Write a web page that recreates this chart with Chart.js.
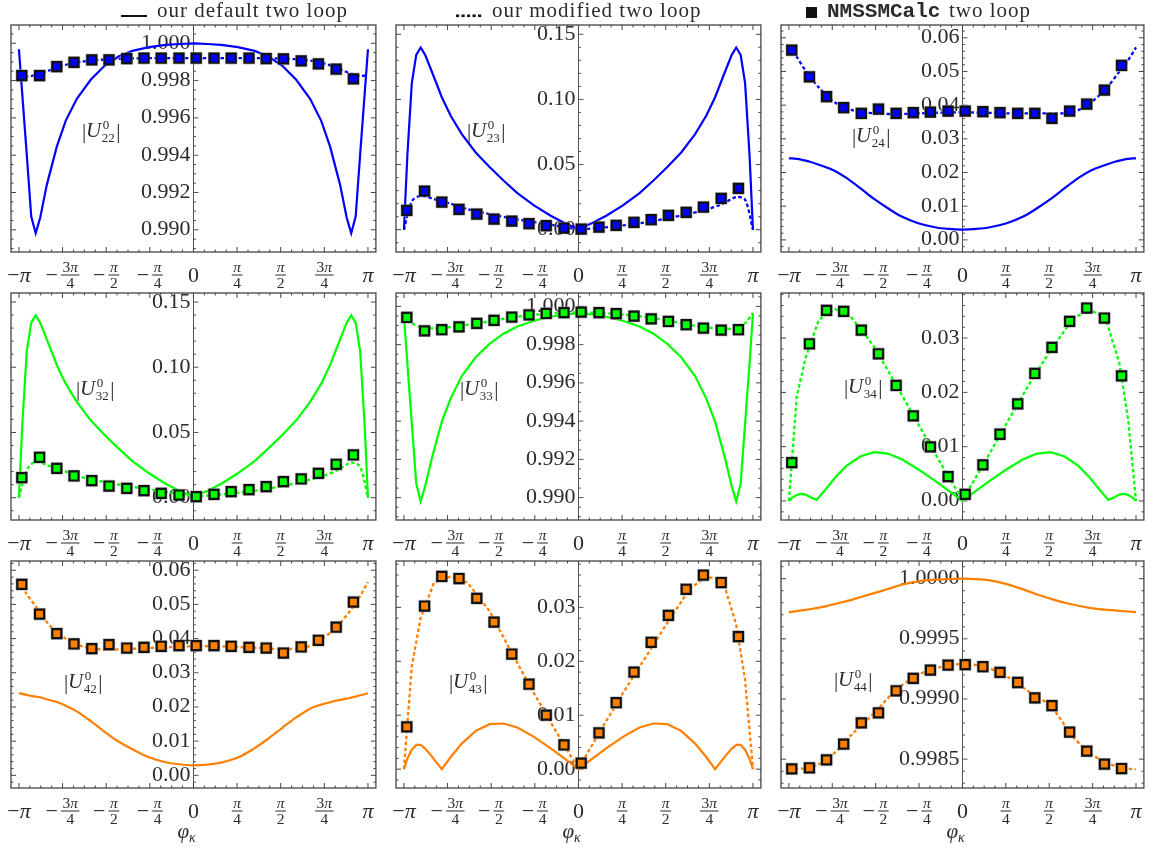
<!DOCTYPE html>
<html>
<head>
<meta charset="utf-8">
<script src="https://cdn.jsdelivr.net/npm/chart.js@4.4.1/dist/chart.umd.min.js"></script>
<style>
  body { margin: 0; background: #fff; width: 1153px; height: 850px; position: relative; overflow: hidden; }
  canvas { position: absolute; }
</style>
</head>
<body>
<canvas id="legend" width="1153" height="26" style="left:0;top:0"></canvas>
<script>
// x grids (phi_kappa in radians)
const LINE_PHI = [-3.1416, -3.08, -3.0, -2.92, -2.84, -2.76, -2.64, -2.46, -2.3, -2.1, -1.85, -1.6, -1.35, -1.1, -0.8, -0.5, -0.25, 0,
                  0.25, 0.5, 0.8, 1.1, 1.35, 1.6, 1.85, 2.1, 2.3, 2.46, 2.64, 2.76, 2.84, 2.92, 3.0, 3.08, 3.1416];
const DOT_PHI = [-3.1416, -3.0, -2.84, -2.6, -2.3, -2.0, -1.6, -1.2, -0.8, -0.4, 0, 0.4, 0.8, 1.2, 1.6, 2.0, 2.3, 2.6, 2.84, 3.0, 3.1416];
const PTS_PHI = [-3.09, -2.77, -2.46, -2.15, -1.83, -1.52, -1.20, -0.89, -0.58, -0.26, 0.05, 0.37, 0.68, 1.00, 1.31, 1.62, 1.94, 2.25, 2.57, 2.88];

// |U22|
const U22_DEFAULT = [0.99968, 0.99721, 0.99400, 0.99071, 0.98982, 0.99063, 0.99241, 0.99446, 0.99584, 0.99702, 0.99804, 0.99879, 0.99929, 0.99959, 0.99979, 0.99991, 0.99996, 1.00000,
                     0.99996, 0.99991, 0.99979, 0.99959, 0.99929, 0.99879, 0.99804, 0.99702, 0.99584, 0.99446, 0.99241, 0.99063, 0.98982, 0.99071, 0.99400, 0.99721, 0.99968];
const U22_MODIFIED = [0.99818, 0.99821, 0.99829, 0.99854, 0.99884, 0.99902, 0.99913, 0.99918, 0.99920, 0.99920, 0.99920, 0.99920, 0.99920, 0.99920, 0.99918, 0.99911, 0.99896, 0.99866, 0.99836, 0.99825, 0.99829];
const U22_CALC = [0.99827, 0.99827, 0.99875, 0.99898, 0.99911, 0.99911, 0.99918, 0.99920, 0.99920, 0.99920, 0.99920, 0.99920, 0.99920, 0.99920, 0.99918, 0.99916, 0.99905, 0.99889, 0.99861, 0.99809];

// |U23|
const U23_DEFAULT = [0, 0.0570, 0.1125, 0.1342, 0.1398, 0.1342, 0.1214, 0.1017, 0.0874, 0.0734, 0.0593, 0.0481, 0.0378, 0.0281, 0.0187, 0.0107, 0.0051, 0.0005,
                     0.0051, 0.0107, 0.0187, 0.0281, 0.0378, 0.0481, 0.0593, 0.0734, 0.0874, 0.1017, 0.1214, 0.1342, 0.1398, 0.1342, 0.1125, 0.0570, 0];
const U23_MODIFIED = [0, 0.02172, 0.02607, 0.02351, 0.01993, 0.01584, 0.01201, 0.00869, 0.00588, 0.00307, 0.00051, 0.00153, 0.00332, 0.00562, 0.00869, 0.01227, 0.01533, 0.01993, 0.02504, 0.02300, 0];
const U23_CALC = [0.01482, 0.02964, 0.02121, 0.01559, 0.01201, 0.00818, 0.00664, 0.00460, 0.00307, 0.00128, 0.00051, 0.00204, 0.00332, 0.00562, 0.00767, 0.01099, 0.01329, 0.01738, 0.02402, 0.03169];

// |U24|
const U24_DEFAULT = [0.02422, 0.02418, 0.02405, 0.02385, 0.02355, 0.02318, 0.02255, 0.02150, 0.02040, 0.01840, 0.01535, 0.01215, 0.00939, 0.00692, 0.00494, 0.00376, 0.00326, 0.00306,
                     0.00326, 0.00376, 0.00494, 0.00692, 0.00939, 0.01215, 0.01535, 0.01840, 0.02040, 0.02150, 0.02255, 0.02318, 0.02355, 0.02385, 0.02405, 0.02418, 0.02422];
const U24_MODIFIED = [0.05733, 0.05436, 0.05021, 0.04527, 0.04072, 0.03855, 0.03756, 0.03736, 0.03756, 0.03776, 0.03786, 0.03776, 0.03756, 0.03756, 0.03756, 0.03786, 0.04053, 0.04497, 0.04992, 0.05338, 0.05713];
const U24_CALC = [0.05634, 0.04843, 0.04250, 0.03924, 0.03756, 0.03885, 0.03756, 0.03776, 0.03796, 0.03825, 0.03825, 0.03805, 0.03776, 0.03756, 0.03756, 0.03608, 0.03825, 0.04033, 0.04448, 0.05179];

// |U32|
const U32_DEFAULT = [0, 0.0570, 0.1125, 0.1342, 0.1398, 0.1342, 0.1214, 0.1017, 0.0874, 0.0734, 0.0593, 0.0481, 0.0378, 0.0281, 0.0187, 0.0107, 0.0051, 0.0010,
                     0.0051, 0.0107, 0.0187, 0.0281, 0.0378, 0.0481, 0.0593, 0.0734, 0.0874, 0.1017, 0.1214, 0.1342, 0.1398, 0.1342, 0.1125, 0.0570, 0];
const U32_MODIFIED = [0, 0.02124, 0.02764, 0.02432, 0.01996, 0.01561, 0.01203, 0.00896, 0.00640, 0.00384, 0.00128, 0.00205, 0.00384, 0.00589, 0.00896, 0.01280, 0.01613, 0.02124, 0.02687, 0.02380, 0];
const U32_CALC = [0.01536, 0.03097, 0.02252, 0.01664, 0.01305, 0.00896, 0.00717, 0.00537, 0.00333, 0.00205, 0.00077, 0.00256, 0.00461, 0.00614, 0.00845, 0.01229, 0.01433, 0.01868, 0.02560, 0.03276];

// |U33|
const U33_DEFAULT = [0.99950, 0.99703, 0.99388, 0.99073, 0.98981, 0.99059, 0.99205, 0.99397, 0.99519, 0.99636, 0.99734, 0.99804, 0.99857, 0.99895, 0.99925, 0.99946, 0.99958, 0.99963,
                     0.99958, 0.99946, 0.99925, 0.99895, 0.99857, 0.99804, 0.99734, 0.99636, 0.99519, 0.99397, 0.99205, 0.99059, 0.98981, 0.99073, 0.99388, 0.99703, 0.99962];
const U33_MODIFIED = [0.99956, 0.99913, 0.99892, 0.99885, 0.99892, 0.99904, 0.99921, 0.99942, 0.99956, 0.99965, 0.99969, 0.99965, 0.99958, 0.99944, 0.99927, 0.99904, 0.99890, 0.99885, 0.99885, 0.99913, 0.99965];
const U33_CALC = [0.99942, 0.99872, 0.99878, 0.99893, 0.99911, 0.99927, 0.99944, 0.99956, 0.99963, 0.99967, 0.99970, 0.99967, 0.99962, 0.99949, 0.99935, 0.99921, 0.99904, 0.99886, 0.99876, 0.99878];

// |U34|
const U34_DEFAULT = [0, 0.00061, 0.00111, 0.00129, 0.00117, 0.00074, 0.00018, 0.00234, 0.00436, 0.00645, 0.00818, 0.00898, 0.00873, 0.00768, 0.00584, 0.00375, 0.00191, 0,
                     0.00191, 0.00375, 0.00584, 0.00768, 0.00873, 0.00898, 0.00818, 0.00645, 0.00436, 0.00234, 0.00018, 0.00074, 0.00117, 0.00129, 0.00111, 0.00061, 0];
const U34_MODIFIED = [0, 0.01924, 0.02631, 0.03338, 0.03535, 0.03369, 0.02846, 0.02139, 0.01414, 0.00707, 0.00018, 0.00707, 0.01432, 0.02139, 0.02785, 0.03350, 0.03535, 0.03338, 0.02539, 0.01494, 0];
const U34_CALC = [0.00707, 0.02895, 0.03510, 0.03492, 0.03147, 0.02711, 0.02127, 0.01568, 0.00996, 0.00449, 0.00123, 0.00664, 0.01229, 0.01789, 0.02348, 0.02828, 0.03307, 0.03553, 0.03369, 0.02305];

// |U42|
const U42_DEFAULT = [0.02402, 0.02382, 0.02353, 0.02324, 0.02304, 0.02284, 0.02225, 0.02147, 0.02039, 0.01873, 0.01588, 0.01275, 0.00990, 0.00765, 0.00529, 0.00382, 0.00324, 0.00294,
                     0.00314, 0.00373, 0.00520, 0.00794, 0.01078, 0.01392, 0.01696, 0.01951, 0.02069, 0.02137, 0.02206, 0.02245, 0.02275, 0.02304, 0.02343, 0.02373, 0.02402];
const U42_MODIFIED = [0.05686, 0.05294, 0.04951, 0.04412, 0.04000, 0.03775, 0.03676, 0.03696, 0.03725, 0.03755, 0.03775, 0.03775, 0.03755, 0.03725, 0.03696, 0.03735, 0.03971, 0.04382, 0.04853, 0.05245, 0.05657];
const U42_CALC = [0.05588, 0.04716, 0.04147, 0.03843, 0.03706, 0.03824, 0.03725, 0.03745, 0.03775, 0.03794, 0.03794, 0.03794, 0.03775, 0.03745, 0.03725, 0.03578, 0.03755, 0.03951, 0.04333, 0.05069];

// |U43|
const U43_DEFAULT = [0, 0.00193, 0.00361, 0.00448, 0.00448, 0.00380, 0.00237, 0, 0.00224, 0.00473, 0.00710, 0.00834, 0.00846, 0.00772, 0.00598, 0.00386, 0.00193, 0,
                     0.00193, 0.00386, 0.00598, 0.00772, 0.00846, 0.00834, 0.00710, 0.00473, 0.00224, 0, 0.00237, 0.00380, 0.00448, 0.00448, 0.00361, 0.00193, 0];
const U43_MODIFIED = [0, 0.01905, 0.02807, 0.03461, 0.03573, 0.03461, 0.02931, 0.02154, 0.01407, 0.00691, 0.00006, 0.00722, 0.01407, 0.02060, 0.02714, 0.03336, 0.03573, 0.03492, 0.02683, 0.01656, 0];
const U43_CALC = [0.00784, 0.03025, 0.03573, 0.03535, 0.03168, 0.02726, 0.02135, 0.01575, 0.01002, 0.00448, 0.00112, 0.00672, 0.01232, 0.01799, 0.02353, 0.02851, 0.03336, 0.03597, 0.03461, 0.02458];

// |U44|
const U44_DEFAULT = [0.999722, 0.999724, 0.999730, 0.999736, 0.999741, 0.999747, 0.999755, 0.999772, 0.999791, 0.999813, 0.999846, 0.999880, 0.999914, 0.999950, 0.999978, 0.999992, 0.999997, 1.000000,
                     0.999997, 0.999986, 0.999955, 0.999911, 0.999869, 0.999833, 0.999800, 0.999775, 0.999758, 0.999747, 0.999741, 0.999736, 0.999733, 0.999730, 0.999727, 0.999724, 0.999722];
const U44_MODIFIED = [0.998419, 0.998419, 0.998425, 0.998458, 0.998558, 0.998706, 0.998881, 0.999076, 0.999201, 0.999265, 0.999290, 0.999268, 0.999187, 0.999062, 0.998937, 0.998686, 0.998556, 0.998469, 0.998436, 0.998422, 0.998414];
const U44_CALC = [0.998419, 0.998428, 0.998494, 0.998625, 0.998801, 0.998884, 0.999068, 0.999171, 0.999240, 0.999282, 0.999285, 0.999268, 0.999221, 0.999137, 0.999009, 0.998945, 0.998725, 0.998567, 0.998458, 0.998422];

// tick labels
const TICKS_NEAR_ONE = ['0.990', '0.992', '0.994', '0.996', '0.998', '1.000'];
const TICKS_TENTH = ['0.00', '0.05', '0.10', '0.15'];
const TICKS_SIX = ['0.00', '0.01', '0.02', '0.03', '0.04', '0.05', '0.06'];
const TICKS_THREE = ['0.00', '0.01', '0.02', '0.03'];
const TICKS_U44 = ['0.9985', '0.9990', '0.9995', '1.0000'];
const X_TICK_VALUES = [-3.14159, -2.35619, -1.5708, -0.7854, 0, 0.7854, 1.5708, 2.35619, 3.14159];
const X_TICK_LABELS = ['−π', '−3π/4', '−π/2', '−π/4', '0', 'π/4', 'π/2', '3π/4', 'π'];
const LEGEND_TEXT = ['our default two loop', 'our modified two loop', 'NMSSMCalc', 'two loop'];

const BLUE = '#0000ff', GREEN = '#00ff00', ORANGE = '#ff8000';
const TEXT = '#2b2b2b', FRAME = '#444', AXIS = '#555';
const SERIF = '"Liberation Serif", "Times New Roman", serif';
const X_MIN = -3.2844, X_MAX = 3.2844;
const FRAME_TOP = [25, 293, 561], FRAME_LEFT = [11, 396, 781], FRAME_W = 368, FRAME_H = 227;

const PANELS = [
  { sub: '22', color: BLUE, def: U22_DEFAULT, mod: U22_MODIFIED, calc: U22_CALC, yMin: 0.98881, yMax: 1.00098, ticks: TICKS_NEAR_ONE, major: 0.002, sub4: 4, lab: [71, 112], tDef: 0, tMod: 0.3 },
  { sub: '23', color: BLUE, def: U23_DEFAULT, mod: U23_MODIFIED, calc: U23_CALC, yMin: -0.0171, yMax: 0.1571, ticks: TICKS_TENTH, major: 0.05, sub4: 5, lab: [71, 112], tDef: 0, tMod: 0.3 },
  { sub: '24', color: BLUE, def: U24_DEFAULT, mod: U24_MODIFIED, calc: U24_CALC, yMin: -0.0036, yMax: 0.0638, ticks: TICKS_SIX, major: 0.01, sub4: 5, lab: [71, 117], tDef: 0.3, tMod: 0.3 },
  { sub: '32', color: GREEN, def: U32_DEFAULT, mod: U32_MODIFIED, calc: U32_CALC, yMin: -0.0171, yMax: 0.1569, ticks: TICKS_TENTH, major: 0.05, sub4: 5, lab: [65, 102], tDef: 0, tMod: 0.3 },
  { sub: '33', color: GREEN, def: U33_DEFAULT, mod: U33_MODIFIED, calc: U33_CALC, yMin: 0.98883, yMax: 1.0007, ticks: TICKS_NEAR_ONE, major: 0.002, sub4: 4, lab: [64, 102], tDef: 0, tMod: 0.3 },
  { sub: '34', color: GREEN, def: U34_DEFAULT, mod: U34_MODIFIED, calc: U34_CALC, yMin: -0.0035, yMax: 0.0383, ticks: TICKS_THREE, major: 0.01, sub4: 5, lab: [63, 100], tDef: 0, tMod: 0 },
  { sub: '42', color: ORANGE, def: U42_DEFAULT, mod: U42_MODIFIED, calc: U42_CALC, yMin: -0.0037, yMax: 0.0627, ticks: TICKS_SIX, major: 0.01, sub4: 5, lab: [53, 127], tDef: 0.3, tMod: 0.3 },
  { sub: '43', color: ORANGE, def: U43_DEFAULT, mod: U43_MODIFIED, calc: U43_CALC, yMin: -0.0035, yMax: 0.0386, ticks: TICKS_THREE, major: 0.01, sub4: 5, lab: [53, 127], tDef: 0, tMod: 0 },
  { sub: '44', color: ORANGE, def: U44_DEFAULT, mod: U44_MODIFIED, calc: U44_CALC, yMin: 0.99826, yMax: 1.000147, ticks: TICKS_U44, major: 0.0005, sub4: 5, lab: [53, 125], tDef: 0.3, tMod: 0.3 }
];

function fnt(size, italic, family) {
  return (italic ? 'italic ' : '') + size + 'px ' + (family || SERIF);
}

// split a label into roman / italic runs (greek letters and U are italic)
function runsOf(str) {
  const runs = [];
  for (const ch of str) {
    const it = 'πUφκ'.includes(ch);
    if (runs.length && runs[runs.length - 1].it === it) runs[runs.length - 1].t += ch;
    else runs.push({ t: ch, it });
  }
  return runs;
}

function mathWidth(ctx, str, size) {
  let w = 0;
  runsOf(str).forEach(r => { ctx.font = fnt(size, r.it); w += ctx.measureText(r.t).width; });
  return w;
}

function drawMath(ctx, str, x, y, size, align) {
  const w = mathWidth(ctx, str, size);
  let cx = align === 'center' ? x - w / 2 : (align === 'right' ? x - w : x);
  ctx.textAlign = 'left';
  runsOf(str).forEach(r => {
    ctx.font = fnt(size, r.it);
    ctx.fillText(r.t, cx, y);
    cx += ctx.measureText(r.t).width;
  });
  return w;
}

function drawXLabel(ctx, lab, px, base) {
  const neg = lab.startsWith('−');
  const body = neg ? lab.slice(1) : lab;
  if (!body.includes('/')) {
    drawMath(ctx, lab, px, base + 30, 22, 'center');
    return;
  }
  const [num, den] = body.split('/');
  const fw = Math.max(mathWidth(ctx, num, 15.5), mathWidth(ctx, den, 15.5)) + 3;
  ctx.font = fnt(22);
  const mw = neg ? ctx.measureText('−').width + 3 : 0;
  const left = px - (mw + fw) / 2;
  if (neg) { ctx.textAlign = 'left'; ctx.fillText('−', left, base + 30); }
  const fc = left + mw + fw / 2;
  drawMath(ctx, num, fc, base + 20, 15.5, 'center');
  ctx.fillRect(fc - fw / 2, base + 22.5, fw, 1);
  drawMath(ctx, den, fc, base + 35.5, 15.5, 'center');
}

function drawPanelLabel(ctx, sub, x0, base) {
  ctx.textAlign = 'left';
  ctx.font = fnt(21);
  ctx.fillText('|', x0, base + 0.5);
  ctx.font = fnt(21, true);
  ctx.fillText('U', x0 + 4, base);
  const uw = ctx.measureText('U').width;
  const sx = x0 + 4 + uw + 0.5;
  ctx.font = fnt(13);
  ctx.fillText('0', sx + 1, base - 8);
  ctx.fillText(sub, sx, base + 4.5);
  const sw = ctx.measureText(sub).width;
  ctx.font = fnt(21);
  ctx.fillText('|', sx + sw + 1.5, base + 0.5);
}

function eachYTick(p, fn) {
  const minor = p.major / p.sub4;
  const n0 = Math.ceil(p.yMin / minor - 1e-9), n1 = Math.floor(p.yMax / minor + 1e-9);
  for (let n = n0; n <= n1; n++) fn(n * minor, n % p.sub4 === 0);
}

function decor(p, row) {
  return {
    id: 'decor',
    beforeDatasetsDraw(chart) {
      const { ctx, chartArea: a, scales: { x, y } } = chart;
      const ax = Math.round(x.getPixelForValue(0)) + 0.5;
      ctx.save();
      ctx.strokeStyle = AXIS;
      ctx.lineWidth = 1;
      ctx.beginPath();
      ctx.moveTo(ax, a.top); ctx.lineTo(ax, a.bottom);
      eachYTick(p, (v, major) => {
        const py = y.getPixelForValue(v);
        ctx.moveTo(ax, py); ctx.lineTo(ax + (major ? 5 : 2.5), py);
      });
      ctx.stroke();
      ctx.fillStyle = TEXT;
      ctx.textAlign = 'right';
      ctx.font = fnt(22);
      p.ticks.forEach(t => ctx.fillText(t, ax - 3, y.getPixelForValue(Number(t)) + 5.5));
      drawPanelLabel(ctx, p.sub, a.left + p.lab[0], a.top + p.lab[1]);
      ctx.restore();
    },
    afterDraw(chart) {
      const { ctx, chartArea: a, scales: { x, y } } = chart;
      ctx.save();
      ctx.strokeStyle = FRAME;
      ctx.lineWidth = 1.3;
      ctx.strokeRect(a.left, a.top, a.right - a.left, a.bottom - a.top);
      ctx.lineWidth = 1;
      ctx.beginPath();
      for (let k = -16; k <= 16; k++) {
        const px = x.getPixelForValue(k * Math.PI / 16);
        const len = k % 4 === 0 ? 5 : 2.5;
        ctx.moveTo(px, a.bottom); ctx.lineTo(px, a.bottom - len);
        ctx.moveTo(px, a.top); ctx.lineTo(px, a.top + len);
      }
      eachYTick(p, (v, major) => {
        const py = y.getPixelForValue(v);
        const len = major ? 5 : 2.5;
        ctx.moveTo(a.left, py); ctx.lineTo(a.left + len, py);
        ctx.moveTo(a.right, py); ctx.lineTo(a.right - len, py);
      });
      ctx.stroke();
      ctx.fillStyle = TEXT;
      X_TICK_LABELS.forEach((lab, i) => drawXLabel(ctx, lab, x.getPixelForValue(X_TICK_VALUES[i]), a.bottom));
      if (row === 2) {
        const cx = (a.left + a.right) / 2;
        ctx.textAlign = 'left';
        ctx.font = fnt(21, true);
        ctx.fillText('φ', cx - 16, a.bottom + 50);
        const w = ctx.measureText('φ').width;
        ctx.font = fnt(14, true);
        ctx.fillText('κ', cx - 16 + w, a.bottom + 54);
      }
      ctx.restore();
    }
  };
}

const pairs = (xs, ys) => xs.map((v, i) => ({ x: v, y: ys[i] }));

PANELS.forEach((p, i) => {
  const row = Math.floor(i / 3), col = i % 3;
  const W = col === 2 ? 383 : 385;
  const H = 12 + FRAME_H + (row === 2 ? 62 : 42);
  const cv = document.createElement('canvas');
  cv.width = W; cv.height = H;
  cv.style.left = (col * 385) + 'px';
  cv.style.top = (FRAME_TOP[row] - 12) + 'px';
  document.body.appendChild(cv);
  const padLeft = FRAME_LEFT[col] - col * 385;

  new Chart(cv, {
    type: 'line',
    data: {
      datasets: [
        {
          label: 'NMSSMCalc two loop',
          data: pairs(PTS_PHI, p.calc),
          showLine: false,
          pointStyle: 'rect',
          pointRadius: 6.4,
          pointBackgroundColor: p.color,
          pointBorderColor: '#111',
          pointBorderWidth: 2.2
        },
        {
          label: 'halo',
          data: pairs(PTS_PHI, p.calc),
          showLine: false,
          pointStyle: 'rect',
          pointRadius: 8.1,
          pointBackgroundColor: 'rgba(0,0,0,0)',
          pointBorderColor: 'rgba(150,150,150,0.7)',
          pointBorderWidth: 1
        },
        {
          label: 'our modified two loop',
          data: pairs(DOT_PHI, p.mod),
          borderColor: p.color,
          borderWidth: 2.3,
          borderDash: [3.5, 2.5],
          pointRadius: 0,
          tension: p.tMod,
          fill: false
        },
        {
          label: 'our default two loop',
          data: pairs(LINE_PHI, p.def),
          borderColor: p.color,
          borderWidth: 2.2,
          pointRadius: 0,
          tension: p.tDef,
          fill: false
        }
      ]
    },
    options: {
      responsive: false,
      animation: false,
      events: [],
      layout: { padding: { left: padLeft, right: W - padLeft - FRAME_W, top: 12, bottom: H - 12 - FRAME_H } },
      plugins: { legend: { display: false }, tooltip: { enabled: false } },
      scales: {
        x: { type: 'linear', min: X_MIN, max: X_MAX, display: false },
        y: { type: 'linear', min: p.yMin, max: p.yMax, display: false }
      }
    },
    plugins: [decor(p, row)]
  });
});

// legend row on top
(function () {
  const ctx = document.getElementById('legend').getContext('2d');
  ctx.fillStyle = '#111';
  ctx.fillRect(121, 15, 26, 2);
  for (let x = 456; x < 480; x += 5.5) ctx.fillRect(x, 14.5, 3.2, 2.6);
  ctx.fillRect(806, 7, 11, 11);
  ctx.fillStyle = TEXT;
  ctx.textAlign = 'left';
  ctx.font = fnt(21);
  ctx.letterSpacing = '1px';
  ctx.fillText(LEGEND_TEXT[0], 157, 17);
  ctx.fillText(LEGEND_TEXT[1], 492, 17);
  ctx.fillText(LEGEND_TEXT[3], 949, 17);
  ctx.letterSpacing = '0px';
  ctx.font = 'bold 21px "Liberation Mono", monospace';
  ctx.fillText(LEGEND_TEXT[2], 827, 17);
})();
</script>
</body>
</html>
